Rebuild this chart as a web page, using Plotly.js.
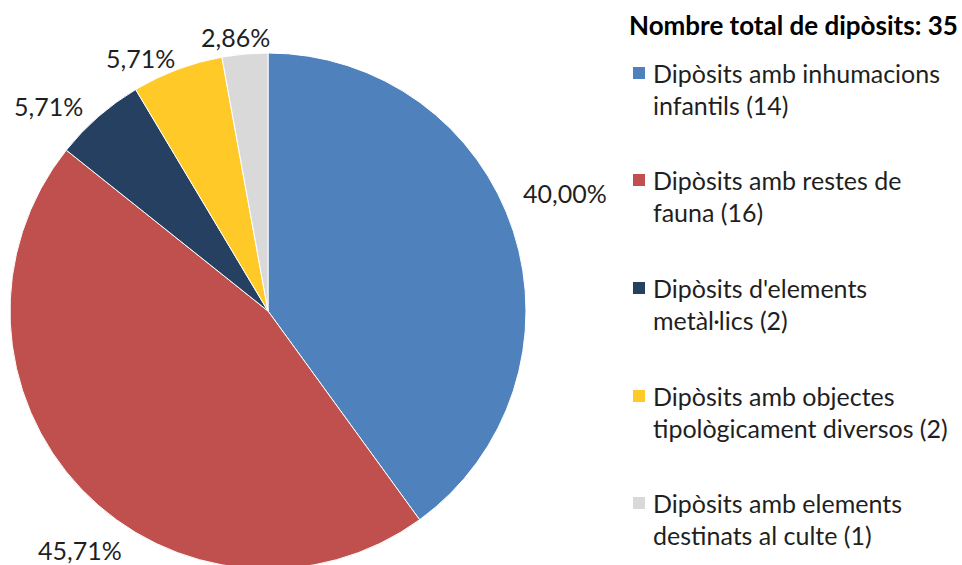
<!DOCTYPE html>
<html>
<head>
<meta charset="utf-8">
<script src="https://cdn.plot.ly/plotly-3.0.1.min.js"></script>
<style>html,body{margin:0;padding:0;overflow:hidden;background:#fff;}</style>
</head>
<body>
<div id="chart"></div>
<script>
const categories = [
  "Dipòsits amb inhumacions<br>infantils (14)",
  "Dipòsits amb restes de<br>fauna (16)",
  "Dipòsits d'elements<br>metàl·lics (2)",
  "Dipòsits amb objectes<br>tipològicament diversos (2)",
  "Dipòsits amb elements<br>destinats al culte (1)"
];
const values = [14, 16, 2, 2, 1];
const colors = ["#4F81BD", "#C0504D", "#254061", "#FFCA28", "#D9D9D9"];
const legendTitle = "Nombre total de dipòsits: 35";

const W = 962, H = 572;
const FONT = "Lato, 'Open Sans', sans-serif";
const TXT = "#1f1f1f";
const px = x => x / W;
const py = y => 1 - y / H;

const total = values.reduce((a, b) => a + b, 0);
const pctText = values.map(v => (v / total * 100).toFixed(2).replace('.', ',') + '%');

// label anchor positions (pixels) for each slice
const labelPos = [[565, 193], [80, 550], [48, 106], [140, 58], [235, 37]];

const annotations = [];
const shapes = [];
pctText.forEach((t, i) => {
  annotations.push({
    xref: 'paper', yref: 'paper', x: px(labelPos[i][0]), y: py(labelPos[i][1]),
    xanchor: 'center', yanchor: 'middle', showarrow: false, text: t,
    font: {family: FONT, size: 25, color: TXT}
  });
});
annotations.push({
  xref: 'paper', yref: 'paper', x: px(627), y: py(25), xanchor: 'left', yanchor: 'middle',
  showarrow: false, text: '<b>' + legendTitle + '</b>', font: {family: FONT, size: 26, color: '#000'}
});
const itemY = [73, 180, 288, 396, 503];
categories.forEach((c, i) => {
  c.split('<br>').forEach((line, j) => {
    annotations.push({
      xref: 'paper', yref: 'paper', x: px(651), y: py(itemY[i] + 32 * j), xanchor: 'left', yanchor: 'middle',
      align: 'left', showarrow: false, text: line,
      font: {family: FONT, size: 25, color: TXT}
    });
  });
  shapes.push({
    type: 'rect', xref: 'paper', yref: 'paper',
    x0: px(633), x1: px(645), y0: py(itemY[i] - 6), y1: py(itemY[i] + 6),
    fillcolor: colors[i], line: {width: 0}
  });
});

const trace = {
  type: 'pie', values: values, labels: categories, sort: false,
  direction: 'clockwise', rotation: 0,
  marker: {colors: colors, line: {color: '#fff', width: 1}},
  textinfo: 'none', hoverinfo: 'label+percent',
  domain: {x: [10 / W, 526 / W], y: [1 - 569 / H, 1 - 53 / H]},
  showlegend: false
};

Plotly.newPlot('chart', [trace], {
  width: W, height: H, margin: {l: 0, r: 0, t: 0, b: 0},
  paper_bgcolor: '#fff', showlegend: false,
  annotations: annotations, shapes: shapes
}, {displayModeBar: false, staticPlot: true});
</script>
</body>
</html>
